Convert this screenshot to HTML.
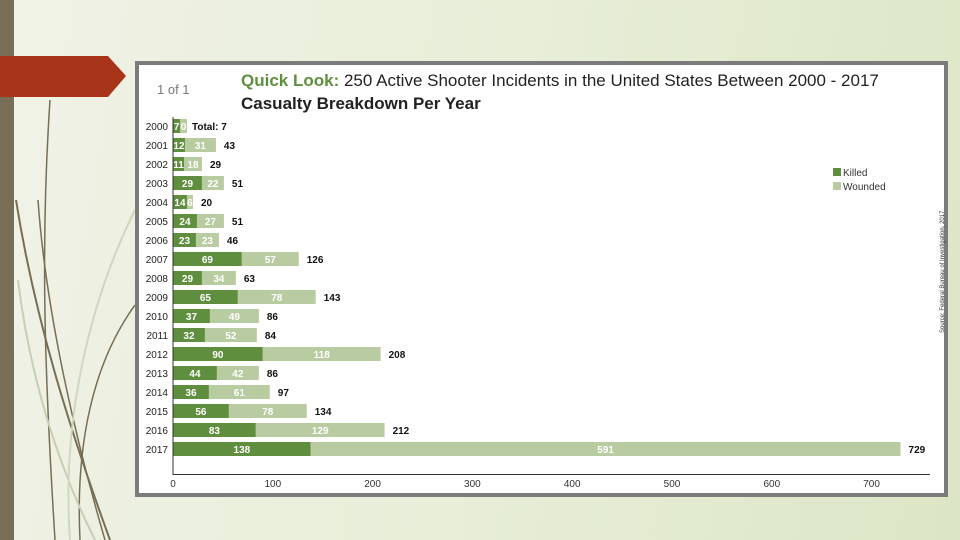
<!DOCTYPE html>
<html><head><meta charset="utf-8"><style>
body{margin:0;width:960px;height:540px;overflow:hidden;font-family:"Liberation Sans",sans-serif;}
#bg{position:absolute;left:0;top:0;width:960px;height:540px;background:linear-gradient(100deg,#f0f2e6 0%,#e8eed8 50%,#dce6c6 100%);}
</style></head><body>
<div id="bg"></div>
<svg width="960" height="540" style="position:absolute;left:0;top:0">
<rect x="0" y="0" width="14" height="540" fill="#786e55"/>
<g fill="none" stroke="#786e55">
<path d="M50 100 C40 250 45 380 55 540" stroke-width="1.5"/>
<path d="M16 200 C35 320 70 430 110 540" stroke-width="2"/>
<path d="M38 200 C45 300 70 420 105 540" stroke-width="1.5"/>
<path d="M135 305 C95 360 75 440 80 540" stroke-width="1.5"/>
<path d="M18 280 C30 380 60 470 95 540" stroke="#c9cdb4" stroke-width="2"/>
<path d="M135 210 C100 280 60 400 70 540" stroke="#d2d6c0" stroke-width="2"/>
</g>
<polygon points="0,56 108,56 126,76 108,97 0,97" fill="#a8341a"/>
</svg>
<svg id="chart" width="960" height="540" style="position:absolute;left:0;top:0"></svg>
<script>
const years=["2000","2001","2002","2003","2004","2005","2006","2007","2008","2009","2010","2011","2012","2013","2014","2015","2016","2017"];
const killed=[7,12,11,29,14,24,23,69,29,65,37,32,90,44,36,56,83,138];
const wounded=[0,31,18,22,6,27,23,57,34,78,49,52,118,42,61,78,129,591];
const ticks=[0,100,200,300,400,500,600,700];
const NS="http://www.w3.org/2000/svg";
const svg=document.getElementById('chart');
function mk(t,a,txt){const e=document.createElementNS(NS,t);for(const k in a)e.setAttribute(k,a[k]);if(txt!==undefined)e.textContent=txt;svg.appendChild(e);return e;}
const x=v=>173+v*0.998;
const y=i=>126+i*19;
const f='"Liberation Sans",sans-serif';
let e;
e=mk('rect',{x:137,y:63,width:809,height:432,fill:'#fff',stroke:'#7b7b7b','stroke-width':4});


e=mk('text',{x:157,y:94,'font-size':13,fill:'#777','font-family':f},'1 of 1');


e=mk('text',{x:241,y:86,'font-size':17,fill:'#222','font-family':f});
e.innerHTML='<tspan font-weight="bold" fill="#5f8f3e">Quick Look:</tspan> 250 Active Shooter Incidents in the United States Between 2000 - 2017';


e=mk('text',{x:241,y:109,'font-size':17,'font-weight':'bold',fill:'#222','font-family':f},'Casualty Breakdown Per Year');


years.forEach((yr,i)=>{
 const cy=y(i);
 let t=mk('text',{x:168,y:cy+4,'font-size':10,'text-anchor':'end',fill:'#222','font-family':f},yr);
 
 
 let r=mk('rect',{x:x(0),y:cy-7,width:x(killed[i])-x(0),height:14,fill:'#5f8f3e'});
 
 
 let w=mk('rect',{x:x(killed[i]),y:cy-7,width:Math.max(x(killed[i]+wounded[i])-x(killed[i]),i===0?7:0),height:14,fill:'#b9cba0'});
 
 
 let kl=mk('text',{x:(x(0)+x(killed[i]))/2,y:cy+4,'font-size':10,'font-weight':'bold','text-anchor':'middle',fill:'#fff','font-family':f},killed[i]);
 
 
 const wEnd=i===0?x(killed[i])+7:x(killed[i]+wounded[i]);
 let wl=mk('text',{x:(x(killed[i])+wEnd)/2,y:cy+4,'font-size':10,'font-weight':'bold','text-anchor':'middle',fill:'#fff','font-family':f},wounded[i]);
 
 
 const tot=killed[i]+wounded[i];
 let tl=mk('text',{x:wEnd+(i===0?5:8),y:cy+4,'font-size':10,'font-weight':'bold',fill:'#111','font-family':f},i===0?'Total: '+tot:tot);
 
 
});
e=mk('line',{x1:173,y1:117,x2:173,y2:475,stroke:'#333','stroke-width':1});


e=mk('line',{x1:173,y1:474.5,x2:930,y2:474.5,stroke:'#333','stroke-width':1});


ticks.forEach(t=>{
 let l=mk('text',{x:x(t),y:487,'font-size':10,'text-anchor':'middle',fill:'#333','font-family':f},t);
 
 
});
e=mk('rect',{x:833,y:168,width:8,height:8,fill:'#5f8f3e'});


e=mk('text',{x:843,y:176,'font-size':10,fill:'#333','font-family':f},'Killed');


e=mk('rect',{x:833,y:182,width:8,height:8,fill:'#b9cba0'});


e=mk('text',{x:843,y:190,'font-size':10,fill:'#333','font-family':f},'Wounded');


e=mk('text',{x:0,y:0,'font-size':6,fill:'#333','font-family':f,transform:'translate(944,333) rotate(-90)'},'Source: Federal Bureau of Investigation, 2017');


</script>
</body></html>
